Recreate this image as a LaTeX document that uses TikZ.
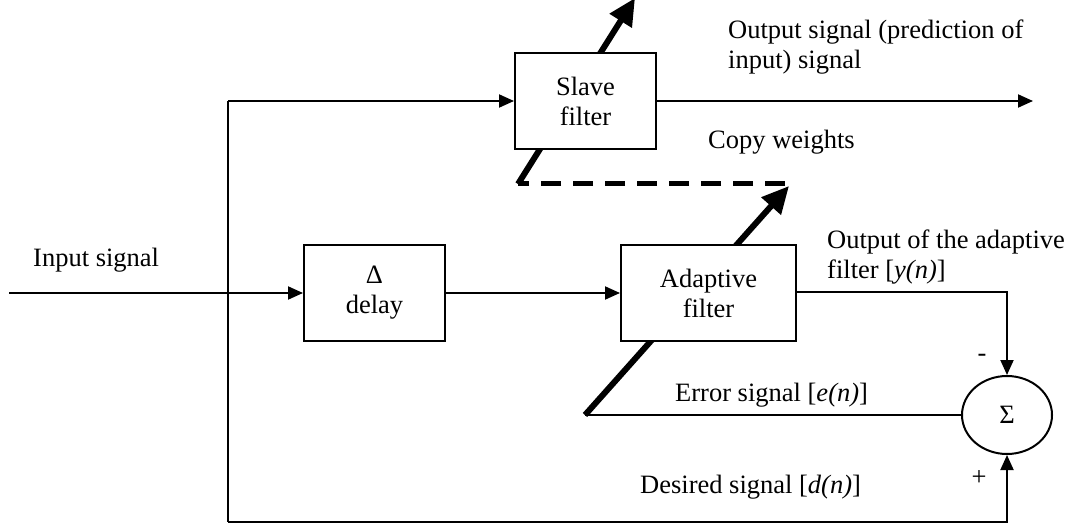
\documentclass[tikz,border=0pt]{standalone}
\usepackage{fontspec}
\setmainfont{Liberation Serif}
\usetikzlibrary{arrows.meta,shapes.geometric}
\begin{document}
\begin{tikzpicture}[x=1pt,y=-1pt,
  every node/.style={font=\fontsize{26.5}{30}\selectfont},
  blockbox/.style={draw,line width=2pt,fill=white,rectangle,minimum height=96pt,align=center,inner sep=0pt},
  lbl/.style={inner sep=0pt,anchor=west,align=left},
  sig/.style={line width=2pt,-{Triangle[length=15pt,width=13pt]}},
  wire/.style={line width=2pt},
  thickarrow/.style={line width=6pt,-{Triangle[length=27pt,width=25pt]}},
  copyline/.style={line width=5pt,dash pattern=on 20pt off 12pt}]
\useasboundingbox (0,0) rectangle (1073,526);
% free coordinates
\coordinate (inStart) at (9,293);
\coordinate (jIn) at (228,293);
\coordinate (jTop) at (228,101);
\coordinate (jBot) at (228,522);
\coordinate (outEnd) at (1033,101);
\coordinate (yCorner) at (1007,292);
\coordinate (dCorner) at (1007,522);
\coordinate (slaveTail) at (518,184);
\coordinate (slaveTip) at (635,-2);
\coordinate (copyEnd) at (785,184);
\coordinate (adaptTail) at (585,415);
\coordinate (adaptTip) at (789,186);
% thick adjustment arrows (behind the boxes)
\draw[copyline] (copyEnd) -- (slaveTail);
\draw[thickarrow] (slaveTail) -- (slaveTip);
\draw[thickarrow] (adaptTail) -- (adaptTip);
% blocks
\node[blockbox,minimum width=141pt] (slave) at (585.5,101) {Slave\\filter};
\node[blockbox,minimum width=141pt] (delay) at (374.5,293) {Δ\\delay};
\node[blockbox,minimum width=175pt] (adapt) at (708.5,293) {Adaptive\\filter};
\node[draw,line width=2pt,ellipse,minimum width=90pt,minimum height=78pt,inner sep=0pt] (sum) at (1007,415) {Σ};
% connectors
\draw[sig] (inStart) -- (delay.west);
\draw[wire] (jTop) -- (jBot);
\draw[sig] (jTop) -- (slave.west);
\draw[sig] (slave.east) -- (outEnd);
\draw[sig] (delay.east) -- (adapt.west);
\draw[sig] (adapt.east |- yCorner) -- (yCorner) -- (sum.north);
\draw[wire] (sum.west) -- (adaptTail |- sum.west);
\draw[sig] (jBot) -- (dCorner) -- (sum.south);
% labels
\node[lbl] (lin) at (33,260) {Input signal};
\node[lbl] (lout) at (728,47) {Output signal (prediction of\\input) signal};
\node[lbl] (lcopy) at (708,142) {Copy weights};
\node[lbl] (ly) at (827,257.5) {Output of the adaptive\\filter [\textit{y(n)}]};
\node[lbl] (le) at (675,395) {Error signal [\textit{e(n)}]};
\node[lbl] (ld) at (640,487) {Desired signal [\textit{d(n)}]};
\node[inner sep=0pt] (lminus) at (982,358) {-};
\node[inner sep=0pt] (lplus) at (979,478) {+};
\end{tikzpicture}
\end{document}
